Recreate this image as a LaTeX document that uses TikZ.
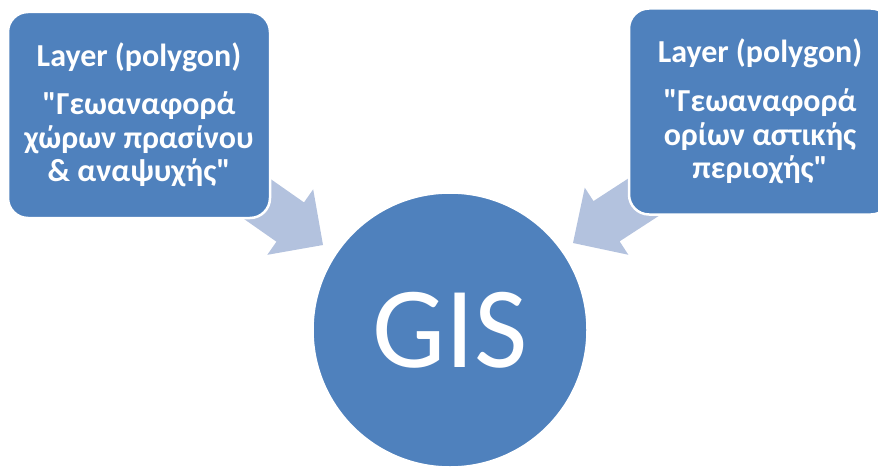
\documentclass[tikz,border=0pt]{standalone}
\usepackage{fontspec}
\setmainfont{Carlito}[Ligatures=TeXOff]
\usetikzlibrary{positioning}
\definecolor{gisblue}{HTML}{4F81BD}
\definecolor{arrowtint}{HTML}{B3C2DE}
\tikzset{
  layerbox/.style={draw=white, line width=2.5pt, fill=gisblue,
    rounded corners=20pt, minimum width=262pt, minimum height=206pt,
    inner sep=0pt, text=white, align=center,
    font=\fontsize{32}{33.5}\selectfont\bfseries},
  hub/.style={circle, draw=white, line width=2.5pt, fill=gisblue,
    minimum size=275pt, inner sep=0pt, text=white,
    font=\fontsize{116}{116}\selectfont},
  feedarrow/.style={fill=arrowtint}
}
\begin{document}
\begin{tikzpicture}[x=1pt, y=-1pt]
  \useasboundingbox (0,0) rectangle (878,468);
  % arrow tips, next to the circle
  \coordinate (tipL) at (323,245);
  \coordinate (tipR) at (573,243);
  \foreach \tip/\ang in {tipL/-35, tipR/213}{%
    \fill[feedarrow, shift={(\tip)}, rotate=\ang]
      (0,0) -- (-40,40) -- (-40,24) -- (-120,24)
      -- (-120,-24) -- (-40,-24) -- (-40,-40) -- cycle;}
  \node[layerbox] (layerL) at (139,115)
    {Layer (polygon)\\[15pt]"Γεωαναφορά\\χώρων πρασίνου\\\& αναψυχής"};
  \node[layerbox] (layerR) at (760,111.5)
    {Layer (polygon)\\[16pt]"Γεωαναφορά\\ορίων αστικής\\περιοχής"};
  \node[hub] (gis) at (450,330) {GIS};
\end{tikzpicture}
\end{document}
